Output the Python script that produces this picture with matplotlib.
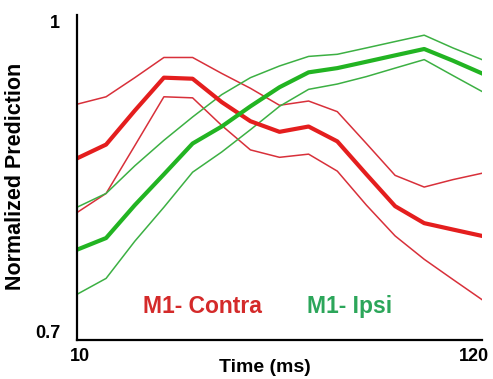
import matplotlib
matplotlib.use("Agg")
from matplotlib import pyplot as plt
from matplotlib.transforms import ScaledTranslation

plt.rcParams['font.family'] = ['Liberation Sans', 'DejaVu Sans']

# time points (ms)
time_ms = [10, 17.9, 25.7, 33.6, 41.4, 49.3, 57.1, 65, 72.9, 80.7, 88.6, 96.4, 104.3, 112.1, 120]

# M1 contralateral
contra_upper = [0.922, 0.929, 0.947, 0.966, 0.966, 0.951, 0.937, 0.921, 0.925, 0.915, 0.885, 0.855, 0.844, 0.851, 0.857]
contra_mean = [0.871, 0.884, 0.916, 0.947, 0.946, 0.924, 0.906, 0.896, 0.901, 0.887, 0.856, 0.826, 0.810, 0.804, 0.798]
contra_lower = [0.820, 0.838, 0.883, 0.929, 0.928, 0.902, 0.879, 0.872, 0.875, 0.859, 0.827, 0.798, 0.776, 0.757, 0.738]

# M1 ipsilateral
ipsi_upper = [0.825, 0.838, 0.864, 0.888, 0.910, 0.931, 0.947, 0.958, 0.967, 0.969, 0.975, 0.981, 0.987, 0.975, 0.964]
ipsi_mean = [0.785, 0.796, 0.827, 0.856, 0.885, 0.901, 0.920, 0.938, 0.952, 0.956, 0.962, 0.968, 0.974, 0.963, 0.951]
ipsi_lower = [0.743, 0.758, 0.793, 0.825, 0.858, 0.877, 0.898, 0.920, 0.936, 0.941, 0.948, 0.956, 0.964, 0.949, 0.934]

red_thin = "#d8303a"
red_thick = "#e41e1e"
green_thin = "#3cb043"
green_thick = "#22b422"

W, H = 493, 379
fig = plt.figure(figsize=(W / 100, H / 100), dpi=100)
ax = fig.add_axes([77 / W, 1 - 340 / H, 405 / W, 325 / H])

ax.plot(time_ms, contra_upper, color=red_thin, lw=1.1)
ax.plot(time_ms, contra_lower, color=red_thin, lw=1.1)
ax.plot(time_ms, ipsi_upper, color=green_thin, lw=1.1)
ax.plot(time_ms, ipsi_lower, color=green_thin, lw=1.1)
ax.plot(time_ms, contra_mean, color=red_thick, lw=3)
ax.plot(time_ms, ipsi_mean, color=green_thick, lw=3)

ax.set_xlim(10, 120)
ax.set_ylim(0.7, 1.006)

for s in ["top", "right"]:
    ax.spines[s].set_visible(False)
for s in ["left", "bottom"]:
    ax.spines[s].set_linewidth(1.6)

ax.tick_params(length=0)
ax.tick_params(axis="x", pad=6)
ax.tick_params(axis="y", pad=12)
ax.set_xticks([10, 120])
ax.set_xticklabels(["10", "120"], fontsize=13, fontweight="bold")
ax.set_yticks([0.7, 1.0])
ax.set_yticklabels(["0.7", "1"], fontsize=13, fontweight="bold")

# small nudges so the end labels sit like the original
xl = ax.get_xticklabels()
xl[0].set_transform(xl[0].get_transform() + ScaledTranslation(0.03, 0, fig.dpi_scale_trans))
xl[1].set_transform(xl[1].get_transform() + ScaledTranslation(-0.08, 0, fig.dpi_scale_trans))
yl = ax.get_yticklabels()
yl[0].set_transform(yl[0].get_transform() + ScaledTranslation(0, 0.08, fig.dpi_scale_trans))

fig.text(265 / W, 1 - 367 / H, "Time (ms)", fontsize=14, fontweight="bold",
         ha="center", va="center")
fig.text(16 / W, 1 - 176 / H, "Normalized Prediction", fontsize=15.5, fontweight="bold",
         ha="center", va="center", rotation=90)

fig.text(143 / W, 1 - 313 / H, "M1- Contra", color="#d42a2a",
         fontsize=16.5, fontweight="bold", va="baseline")
fig.text(307 / W, 1 - 313 / H, "M1- Ipsi", color="#2ca65a",
         fontsize=16.5, fontweight="bold", va="baseline")

fig.savefig("out.png", dpi=100)
